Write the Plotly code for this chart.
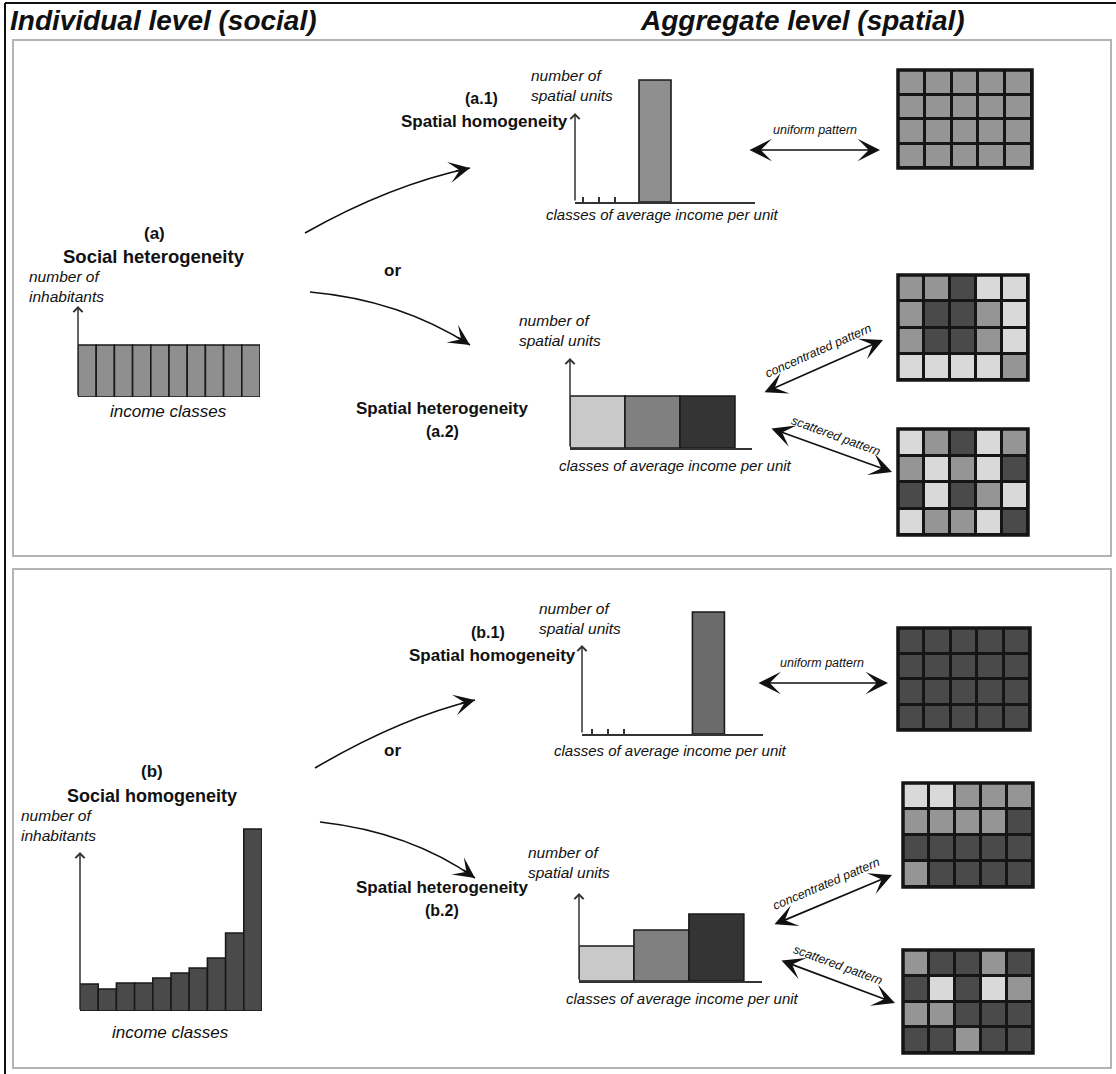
import plotly.graph_objects as go

W, H = 1116, 1074
FONT = "Liberation Sans, Arial, Helvetica, sans-serif"

# ---------------- data ----------------
income_classes = [1, 2, 3, 4, 5, 6, 7, 8, 9, 10]
hetero_inhabitants = [52, 52, 52, 52, 52, 52, 52, 52, 52, 52]
homo_inhabitants = [27, 22, 28, 28, 33, 38, 43, 53, 78, 182]

a1_class = [5.0]
a1_units = [122]
b1_class = [7.9]
b1_units = [122]
unit_ticks_a1 = [0.5, 1.5, 2.5]
unit_ticks_b1 = [0.6, 1.6, 2.6]

avg_classes = [0.5, 1.5, 2.5]
a2_units = [52, 52, 52]
b2_units = [35, 51, 67]
avg_class_colors = ["#c9c9c9", "#808080", "#343434"]

# grid codes: 0 light, 1 medium, 2 dark
grid_a1 = [[1, 1, 1, 1, 1], [1, 1, 1, 1, 1], [1, 1, 1, 1, 1], [1, 1, 1, 1, 1]]
grid_a2_conc = [[1, 1, 2, 0, 0], [1, 2, 2, 1, 0], [1, 2, 2, 1, 0], [0, 0, 0, 0, 1]]
grid_a2_scat = [[0, 1, 2, 0, 1], [1, 0, 1, 0, 2], [2, 0, 2, 1, 0], [0, 1, 1, 0, 2]]
grid_b1 = [[2, 2, 2, 2, 2], [2, 2, 2, 2, 2], [2, 2, 2, 2, 2], [2, 2, 2, 2, 2]]
grid_b2_conc = [[0, 0, 1, 1, 1], [1, 1, 1, 1, 2], [2, 2, 2, 2, 2], [1, 2, 2, 2, 2]]
grid_b2_scat = [[1, 2, 2, 1, 2], [2, 0, 2, 0, 1], [1, 1, 2, 2, 2], [2, 2, 1, 2, 2]]
grid_cols = [0, 1, 2, 3, 4]
grid_rows = [0, 1, 2, 3]

# ---------------- helpers ----------------
def xd(p0, p1):
    return [p0 / W, p1 / W]

def yd(top, bottom):
    return [1 - bottom / H, 1 - top / H]

fig = go.Figure()
axes = {}
shapes = []
ann = []

def hidden_axes(n, xdom, ydom, xr, yr):
    axes[f"xaxis{n}"] = dict(domain=xdom, range=xr, anchor=f"y{n}", visible=False, fixedrange=True)
    axes[f"yaxis{n}"] = dict(domain=ydom, range=yr, anchor=f"x{n}", visible=False, fixedrange=True)

def line_axes(n, xdom, ydom, xr, yr, tickvals=None):
    axes[f"xaxis{n}"] = dict(domain=xdom, range=xr, anchor=f"y{n}", visible=True, fixedrange=True,
                             showline=True, linecolor="#333333", linewidth=1.5, showgrid=False,
                             zeroline=False, showticklabels=False,
                             ticks="inside" if tickvals else "", tickvals=tickvals or [],
                             ticklen=5, tickwidth=1.5, tickcolor="#333333")
    axes[f"yaxis{n}"] = dict(domain=ydom, range=yr, anchor=f"x{n}", visible=False, fixedrange=True)

def y_arrow(n, x0, ytop):
    ann.append(dict(xref=f"x{n}", yref=f"y{n}", axref=f"x{n}", ayref=f"y{n}",
                    x=x0, y=ytop, ax=x0, ay=0, text="", showarrow=True,
                    arrowhead=4, arrowsize=1.2, arrowwidth=1.5, arrowcolor="#333333"))

def txt(x, y, s, size, xanchor="center", align="center", angle=0):
    ann.append(dict(xref="x", yref="y", x=x, y=y, text=s, showarrow=False,
                    xanchor=xanchor, yanchor="middle", align=align, textangle=angle,
                    font=dict(family=FONT, size=size, color="#111111")))

def dbl_arrow(x0, y0, x1, y1):
    ann.append(dict(xref="x", yref="y", axref="x", ayref="y", x=x1, y=y1, ax=x0, ay=y0,
                    text="", showarrow=True, arrowside="end+start",
                    arrowhead=3, startarrowhead=3, arrowsize=2.2, startarrowsize=2.2,
                    arrowwidth=1.7, arrowcolor="#111111"))

def curve_arrow(p0, c, p2):
    shapes.append(dict(type="path", xref="x", yref="y",
                       path=f"M {p0[0]},{p0[1]} Q {c[0]},{c[1]} {p2[0]},{p2[1]}",
                       line=dict(color="#111111", width=1.6)))
    dx, dy = p2[0] - c[0], p2[1] - c[1]
    n = (dx * dx + dy * dy) ** 0.5
    L = 16
    ann.append(dict(xref="x", yref="y", x=p2[0], y=p2[1], ax=-dx / n * L, ay=-dy / n * L,
                    text="", showarrow=True, arrowhead=3, arrowsize=2.2, arrowwidth=1.6,
                    arrowcolor="#111111"))

# main pixel-space axes for annotations / frames
axes["xaxis"] = dict(domain=[0, 1], range=[0, W], visible=False, fixedrange=True)
axes["yaxis"] = dict(domain=[0, 1], range=[H, 0], visible=False, fixedrange=True)

# ---------------- left bar charts ----------------
hidden_axes(2, xd(78, 260), yd(297, 397), [0.5, 10.5], [0, 100])
fig.add_trace(go.Bar(x=income_classes, y=hetero_inhabitants, width=1, xaxis="x2", yaxis="y2",
                     marker=dict(color="#8f8f8f", line=dict(color="#1a1a1a", width=1.6)),
                     hoverinfo="skip"))
y_arrow(2, 0.5, 91)

hidden_axes(3, xd(80, 262), yd(811, 1011), [0.5, 10.5], [0, 200])
fig.add_trace(go.Bar(x=income_classes, y=homo_inhabitants, width=1, xaxis="x3", yaxis="y3",
                     marker=dict(color="#4a4a4a", line=dict(color="#1a1a1a", width=1.6)),
                     hoverinfo="skip"))
y_arrow(3, 0.5, 159)

# ---------------- spatial bar charts ----------------
line_axes(4, xd(575, 755), yd(72, 202), [0, 11.25], [0, 130], unit_ticks_a1)
fig.add_trace(go.Bar(x=a1_class, y=a1_units, width=2, xaxis="x4", yaxis="y4",
                     marker=dict(color="#8f8f8f", line=dict(color="#1a1a1a", width=1.6)),
                     hoverinfo="skip"))
y_arrow(4, 0, 89)

line_axes(5, xd(570, 752), yd(348, 448), [0, 3.31], [0, 100])
fig.add_trace(go.Bar(x=avg_classes, y=a2_units, width=1, xaxis="x5", yaxis="y5",
                     marker=dict(color=avg_class_colors, line=dict(color="#1a1a1a", width=1.6)),
                     hoverinfo="skip"))
y_arrow(5, 0, 90)

line_axes(6, xd(582, 763), yd(604, 734), [0, 11.31], [0, 130], unit_ticks_b1)
fig.add_trace(go.Bar(x=b1_class, y=b1_units, width=2, xaxis="x6", yaxis="y6",
                     marker=dict(color="#6b6b6b", line=dict(color="#1a1a1a", width=1.6)),
                     hoverinfo="skip"))
y_arrow(6, 0, 89)

line_axes(7, xd(579, 762), yd(881, 981), [0, 3.33], [0, 100])
fig.add_trace(go.Bar(x=avg_classes, y=b2_units, width=1, xaxis="x7", yaxis="y7",
                     marker=dict(color=avg_class_colors, line=dict(color="#1a1a1a", width=1.6)),
                     hoverinfo="skip"))
y_arrow(7, 0, 88)

# ---------------- grids ----------------
cscale = [[0, "#d9d9d9"], [0.5, "#959595"], [1, "#4a4a4a"]]
grids = [
    (8, grid_a1, (898, 1032, 70, 168)),
    (9, grid_a2_conc, (898, 1028, 275, 380)),
    (10, grid_a2_scat, (898, 1028, 429, 535)),
    (11, grid_b1, (898, 1030, 628, 730)),
    (12, grid_b2_conc, (903, 1033, 783, 887)),
    (13, grid_b2_scat, (903, 1033, 950, 1053)),
]
for n, g, (x0, x1, y0, y1) in grids:
    hidden_axes(n, xd(x0, x1), yd(y0, y1), [-0.5, 4.5], [3.5, -0.5])
    fig.add_trace(go.Heatmap(z=g, x=grid_cols, y=grid_rows, xaxis=f"x{n}", yaxis=f"y{n}",
                             colorscale=cscale, zmin=0, zmax=2, showscale=False,
                             xgap=3, ygap=3, hoverinfo="skip"))
    shapes.append(dict(type="rect", xref=f"x{n} domain", yref=f"y{n} domain", x0=0, x1=1, y0=0, y1=1,
                       fillcolor="#151515", line=dict(width=0), layer="below"))
    shapes.append(dict(type="rect", xref=f"x{n} domain", yref=f"y{n} domain", x0=0, x1=1, y0=0, y1=1,
                       fillcolor="rgba(0,0,0,0)", line=dict(color="#151515", width=3.5), layer="above"))

# ---------------- frames ----------------
shapes.append(dict(type="rect", xref="x", yref="y", x0=13, x1=1111, y0=40, y1=556,
                   line=dict(color="#b4b4b4", width=2), layer="below"))
shapes.append(dict(type="rect", xref="x", yref="y", x0=13, x1=1111, y0=569, y1=1068,
                   line=dict(color="#b4b4b4", width=2), layer="below"))
shapes.append(dict(type="line", xref="x", yref="y", x0=5, x1=W, y0=3, y1=3,
                   line=dict(color="#111111", width=2)))
shapes.append(dict(type="line", xref="x", yref="y", x0=5, x1=5, y0=3, y1=H,
                   line=dict(color="#111111", width=2)))

# ---------------- texts ----------------
txt(8, 20, "<b><i>Individual level (social)</i></b>", 28, xanchor="left")
txt(638, 20, "<b><i>Aggregate level (spatial)</i></b>", 28, xanchor="left")

# panel (a)
txt(154, 233, "<b>(a)</b>", 17)
txt(154, 256, "<b>Social heterogeneity</b>", 18.5)
txt(27, 286, "<i>number of<br>inhabitants</i>", 15.5, xanchor="left", align="left")
txt(168, 411, "<i>income classes</i>", 17)
txt(392, 270, "<b>or</b>", 17)

txt(481, 98, "<b>(a.1)</b>", 16)
txt(484, 121, "<b>Spatial homogeneity</b>", 17)
txt(529, 85, "<i>number of<br>spatial units</i>", 15.5, xanchor="left", align="left")
txt(662, 214, "<i>classes of average income per unit</i>", 15)
txt(815, 130, "<i>uniform pattern</i>", 12.5)

txt(442, 408, "<b>Spatial heterogeneity</b>", 17)
txt(442, 431, "<b>(a.2)</b>", 16)
txt(517, 330, "<i>number of<br>spatial units</i>", 15.5, xanchor="left", align="left")
txt(675, 465, "<i>classes of average income per unit</i>", 15)
txt(818, 351, "<i>concentrated pattern</i>", 12.5, angle=-24)
txt(836, 436, "<i>scattered pattern</i>", 12.5, angle=20)

# panel (b)
txt(152, 771, "<b>(b)</b>", 17)
txt(152, 796, "<b>Social homogeneity</b>", 18)
txt(19, 825, "<i>number of<br>inhabitants</i>", 15.5, xanchor="left", align="left")
txt(170, 1032, "<i>income classes</i>", 17)
txt(392, 750, "<b>or</b>", 17)

txt(488, 632, "<b>(b.1)</b>", 16)
txt(492, 655, "<b>Spatial homogeneity</b>", 17)
txt(537, 618, "<i>number of<br>spatial units</i>", 15.5, xanchor="left", align="left")
txt(670, 750, "<i>classes of average income per unit</i>", 15)
txt(822, 663, "<i>uniform pattern</i>", 12.5)

txt(442, 887, "<b>Spatial heterogeneity</b>", 17)
txt(442, 910, "<b>(b.2)</b>", 16)
txt(526, 862, "<i>number of<br>spatial units</i>", 15.5, xanchor="left", align="left")
txt(682, 998, "<i>classes of average income per unit</i>", 15)
txt(826, 884, "<i>concentrated pattern</i>", 12.5, angle=-23)
txt(838, 965, "<i>scattered pattern</i>", 12.5, angle=20)

# ---------------- arrows ----------------
curve_arrow((305, 233), (390, 185), (470, 168))
curve_arrow((310, 292), (400, 300), (470, 345))
curve_arrow((315, 768), (400, 718), (475, 700))
curve_arrow((320, 822), (410, 832), (475, 878))

dbl_arrow(748, 150, 880, 150)
dbl_arrow(763, 393, 883, 340)
dbl_arrow(770, 428, 892, 472)
dbl_arrow(757, 683, 888, 683)
dbl_arrow(773, 925, 892, 875)
dbl_arrow(780, 960, 895, 1003)

fig.update_layout(
    width=W, height=H, margin=dict(l=0, r=0, t=0, b=0),
    paper_bgcolor="white", plot_bgcolor="rgba(0,0,0,0)",
    showlegend=False, shapes=shapes, annotations=ann,
    font=dict(family=FONT, color="#111111"),
    **axes,
)

fig.write_html("out.html", config={"displayModeBar": False},
               post_script="document.body.style.margin='0px';")
